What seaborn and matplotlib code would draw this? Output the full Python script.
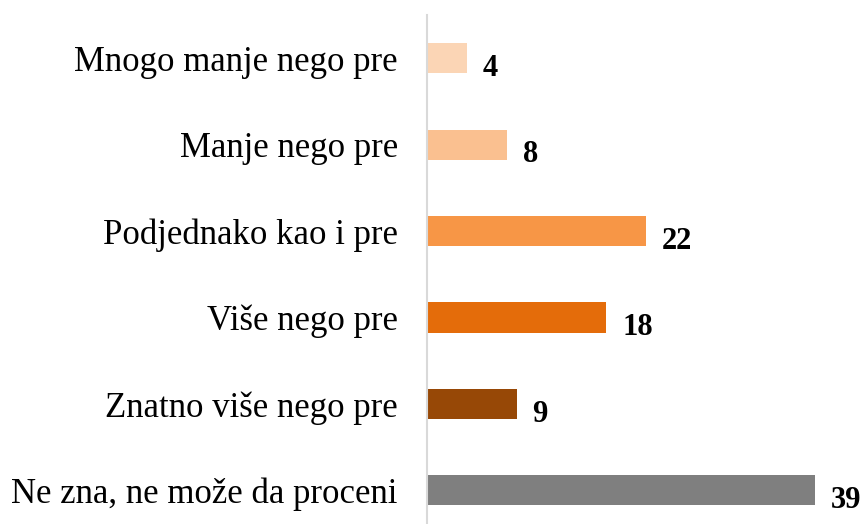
import matplotlib
matplotlib.use("Agg")
import matplotlib.pyplot as plt
import seaborn as sns
import pandas as pd

categories = [
    "Mnogo manje nego pre",
    "Manje nego pre",
    "Podjednako kao i pre",
    "Više nego pre",
    "Znatno više nego pre",
    "Ne zna, ne može da proceni",
]
values = [4, 8, 22, 18, 9, 39]
colors = ["#FBD5B5", "#FAC090", "#F79646", "#E46C0A", "#974806", "#7F7F7F"]

sns.set_style("white")
plt.rcParams["font.family"] = ["Liberation Serif", "DejaVu Serif"]

df = pd.DataFrame({"cat": categories, "val": values})

fig = plt.figure(figsize=(8.67, 5.24), dpi=100)
ax = fig.add_axes([427 / 867, 0, 1 - 427 / 867, 1 - 15 / 524])
sns.barplot(data=df, x="val", y="cat", hue="cat", palette=colors,
            legend=False, width=0.35, saturation=1, linewidth=0, ax=ax)

# value labels next to the bar ends
for i, v in enumerate(values):
    ax.text(v + 1.6, i + 0.12, str(v), va="center", ha="left",
            fontsize=22, fontweight="bold", color="black")

ax.set_xlim(0, 44.2)
ax.set_ylim(5.39, -0.5)
ax.set_xlabel("")
ax.set_ylabel("")
ax.set_xticks([])
ax.tick_params(axis="y", length=0, pad=21, labelsize=25, labelcolor="black")
for s in ["top", "right", "bottom"]:
    ax.spines[s].set_visible(False)
ax.spines["left"].set_color("#D9D9D9")
ax.spines["left"].set_linewidth(1.5)

fig.savefig("out.png", dpi=100)
